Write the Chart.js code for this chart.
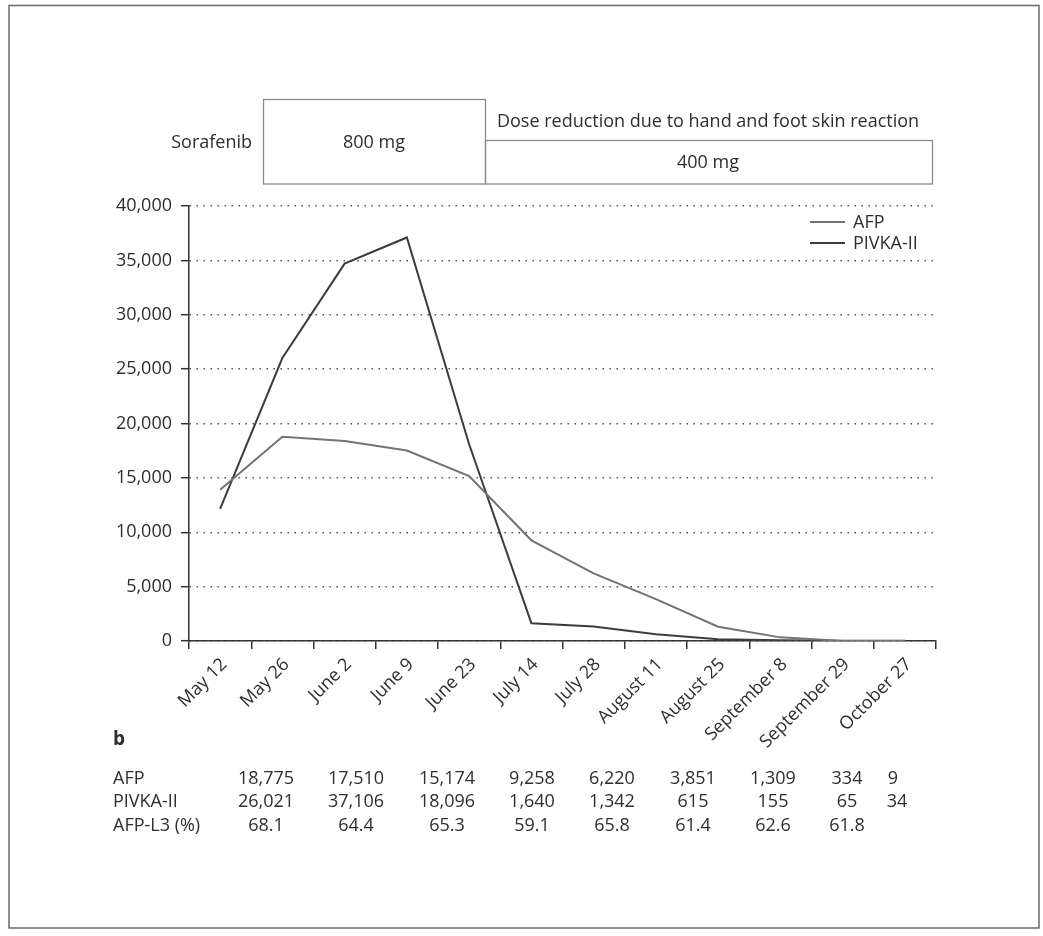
<!DOCTYPE html>
<html>
<head>
<meta charset="utf-8">
<script src="https://cdn.jsdelivr.net/npm/chart.js@4/dist/chart.umd.min.js"></script>
<style>
  html, body { margin: 0; padding: 0; background: #ffffff; }
  #wrap { position: relative; width: 1043px; height: 936px; }
  canvas { display: block; }
</style>
</head>
<body>
<div id="wrap"><canvas id="chart" width="1043" height="936"></canvas></div>
<script>
// Sampling dates (x categories)
const dates = ['May 12', 'May 26', 'June 2', 'June 9', 'June 23', 'July 14', 'July 28',
  'August 11', 'August 25', 'September 8', 'September 29', 'October 27'];

// Tumour markers per date
const afpValues   = [13900, 18775, 18400, 17510, 15174, 9258, 6220, 3851, 1309, 334, 9, 4];
const pivkaValues = [12150, 26021, 34700, 37106, 18096, 1640, 1342, 615, 155, 65, 34, 25];

// Dates listed in panel b (indices into dates) and the AFP-L3 fraction for each
const tableDateIndex = [1, 3, 4, 5, 6, 7, 8, 9, 10];
const afpL3Values = [68.1, 64.4, 65.3, 59.1, 65.8, 61.4, 62.6, 61.8, null];

// Y axis range / step
const yMax = 40000;
const yStep = 5000;

// Dosing schedule
const drugName = 'Sorafenib';
const doseLabels = ['800 mg', '400 mg'];
const doseNote = 'Dose reduction due to hand and foot skin reaction';

const FONT = "'Open Sans', 'Noto Sans', sans-serif";
const TEXT = '#2e2e2e';
const AFP_COLOR = '#737373';
const PIVKA_COLOR = '#3c3c3c';

const fmt = v => Number(v).toLocaleString('en-US');

const decorations = {
  id: 'decorations',
  afterDraw(chart) {
    const ctx = chart.ctx;
    ctx.save();

    // outer frame
    ctx.strokeStyle = '#6a6a6a';
    ctx.lineWidth = 1.5;
    ctx.strokeRect(9, 5.5, 1030, 922.5);

    // dosing schedule boxes
    ctx.strokeStyle = '#8a8a8a';
    ctx.lineWidth = 1.3;
    ctx.strokeRect(263.5, 99.5, 222, 84.5);
    ctx.strokeRect(485.5, 140.5, 447, 43.5);

    ctx.fillStyle = TEXT;
    ctx.font = '18px ' + FONT;
    ctx.textBaseline = 'middle';
    ctx.textAlign = 'right';
    ctx.fillText(drugName, 252, 143);
    ctx.textAlign = 'center';
    ctx.fillText(doseLabels[0], 374, 143);
    ctx.fillText(doseNote, 708, 122);
    ctx.fillText(doseLabels[1], 708, 163);

    // legend
    const ds = chart.data.datasets;
    const legendY = [222, 243];
    ds.forEach((d, i) => {
      ctx.strokeStyle = d.borderColor;
      ctx.lineWidth = 2;
      ctx.beginPath();
      ctx.moveTo(810, legendY[i]);
      ctx.lineTo(845, legendY[i]);
      ctx.stroke();
      ctx.fillStyle = TEXT;
      ctx.textAlign = 'left';
      ctx.fillText(d.label, 853, legendY[i] + 1);
    });

    // panel b: values table
    ctx.font = 'bold 19px ' + FONT;
    ctx.textAlign = 'left';
    ctx.fillText('b', 113, 740);

    ctx.font = '18px ' + FONT;
    const rowY = [779, 802, 826];
    const rowNames = ['AFP', 'PIVKA-II', 'AFP-L3 (%)'];
    rowNames.forEach((n, r) => ctx.fillText(n, 113, rowY[r]));

    const colX = [266, 356, 447, 532, 612, 693, 773, 847, 893];
    ctx.textAlign = 'center';
    tableDateIndex.forEach((di, c) => {
      ctx.fillText(fmt(afpValues[di]), colX[c], rowY[0]);
      ctx.fillText(fmt(pivkaValues[di]), colX[c] + (c === 8 ? 4 : 0), rowY[1]);
      if (afpL3Values[c] !== null) ctx.fillText(afpL3Values[c].toFixed(1), colX[c], rowY[2]);
    });

    ctx.restore();
  }
};

new Chart(document.getElementById('chart'), {
  type: 'line',
  data: {
    labels: dates,
    datasets: [
      { label: 'AFP', data: afpValues, borderColor: AFP_COLOR, borderWidth: 2, pointRadius: 0, tension: 0, fill: false },
      { label: 'PIVKA-II', data: pivkaValues, borderColor: PIVKA_COLOR, borderWidth: 2, pointRadius: 0, tension: 0, fill: false }
    ]
  },
  options: {
    responsive: false,
    animation: false,
    devicePixelRatio: 1,
    layout: { padding: { top: 206, right: 107, bottom: 165, left: 0 } },
    plugins: { legend: { display: false }, tooltip: { enabled: false } },
    scales: {
      x: {
        offset: true,
        grid: { offset: true, drawOnChartArea: false, drawTicks: true, tickLength: 8, color: '#333', lineWidth: 1.5 },
        border: { display: true, color: '#333', width: 1.5 },
        ticks: { autoSkip: false, maxRotation: 45, minRotation: 45, padding: 5, labelOffset: 4, color: TEXT, font: { family: FONT, size: 18 } },
        afterFit(scale) { scale.height = 130; }
      },
      y: {
        min: 0,
        max: yMax,
        ticks: { stepSize: yStep, padding: 9, color: TEXT, font: { family: FONT, size: 18 }, callback: v => fmt(v) },
        grid: { color: '#444', lineWidth: 1.4, drawTicks: true, tickLength: 8, tickColor: '#333', tickWidth: 1.5, tickBorderDash: [] },
        border: { display: true, color: '#333', width: 1.5, dash: [1.4, 5.6] },
        afterFit(scale) { scale.width = 189; }
      }
    }
  },
  plugins: [decorations]
});
</script>
</body>
</html>
